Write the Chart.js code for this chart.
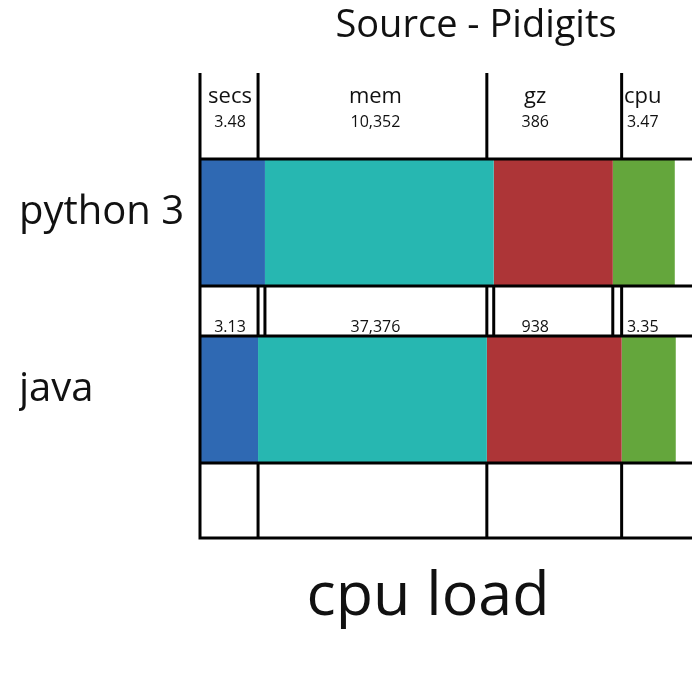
<!DOCTYPE html>
<html>
<head>
<meta charset="utf-8">
<title>Source - Pidigits</title>
<script src="https://cdn.jsdelivr.net/npm/chart.js@4.4.1/dist/chart.umd.min.js"></script>
<style>
    html, body { margin: 0; padding: 0; background: #fff; }
    canvas { display: block; }
</style>
</head>
<body>
<canvas id="pidigitsChart" width="700" height="678"></canvas>
<script>
    // Rows and columns
    const languages = ['python 3', 'java'];
    const metrics = ['secs', 'mem', 'gz', 'cpu'];

    // Segment lengths (share of the axis, 0-100)
    const secsBar = [13.2, 11.8];
    const memBar = [46.5, 46.5];
    const gzBar = [24.2, 27.4];
    const cpuBar = [12.6, 11.0];

    // Printed values
    const pythonValues = ['3.48', '10,352', '386', '3.47'];
    const javaValues = ['3.13', '37,376', '938', '3.35'];

    const colors = ['#2f69b3', '#27b7b1', '#ad3537', '#64a63c'];
    const FONT = '"Open Sans", "Noto Sans", sans-serif';

    // Frame lines and the header / value texts
    const framePlugin = {
        id: 'frame',
        afterDatasetsDraw: function (chart) {
            const ctx = chart.ctx;
            const x = chart.scales.x;
            const left = x.left, right = x.right;
            const py = chart.getDatasetMeta(0).data[0];
            const jv = chart.getDatasetMeta(0).data[1];
            const pyTop = py.y - py.height / 2, pyBot = py.y + py.height / 2;
            const jvTop = jv.y - jv.height / 2, jvBot = jv.y + jv.height / 2;
            const headTop = pyTop - 86;
            const footBot = jvBot + 75;

            // cumulative boundaries
            const bounds = function (row) {
                let sum = 0, out = [];
                chart.data.datasets.forEach(function (ds) {
                    sum += ds.data[row];
                    out.push(x.getPixelForValue(sum));
                });
                return out;
            };
            const pyB = bounds(0), jvB = bounds(1);

            ctx.save();
            ctx.strokeStyle = '#000';
            ctx.lineWidth = 3;
            ctx.beginPath();
            [pyTop, pyBot, jvTop, jvBot, footBot].forEach(function (y) {
                ctx.moveTo(left - 1.5, y);
                ctx.lineTo(right, y);
            });
            ctx.moveTo(left, headTop);
            ctx.lineTo(left, footBot);
            for (let i = 0; i < 3; i++) {
                ctx.moveTo(jvB[i], headTop);
                ctx.lineTo(jvB[i], pyTop);
                ctx.moveTo(jvB[i], pyBot);
                ctx.lineTo(jvB[i], jvTop);
                ctx.moveTo(pyB[i], pyBot);
                ctx.lineTo(pyB[i], jvTop);
                ctx.moveTo(jvB[i], jvBot);
                ctx.lineTo(jvB[i], footBot);
            }
            ctx.stroke();

            // texts
            const nudge = [1, 3, -19, -6];
            ctx.fillStyle = '#111';
            ctx.textAlign = 'center';
            ctx.textBaseline = 'alphabetic';
            let prev = left;
            for (let i = 0; i < 4; i++) {
                const cx = (prev + jvB[i]) / 2 + nudge[i];
                prev = jvB[i];
                ctx.font = '22px ' + FONT;
                ctx.fillText(metrics[i], cx, pyTop - 56);
                ctx.font = '16px ' + FONT;
                ctx.fillText(pythonValues[i], cx, pyTop - 32);
                ctx.fillText(javaValues[i], cx, jvTop - 4);
            }

            ctx.font = '38px ' + FONT;
            ctx.fillText('Source - Pidigits', 476, 37);
            ctx.font = '61px ' + FONT;
            ctx.fillText('cpu load', 428, 615);
            ctx.restore();
        }
    };

    new Chart(document.getElementById('pidigitsChart'), {
        type: 'bar',
        data: {
            labels: languages,
            datasets: [secsBar, memBar, gzBar, cpuBar].map(function (d, i) {
                return {
                    label: metrics[i],
                    data: d,
                    backgroundColor: colors[i],
                    borderWidth: 0,
                    barPercentage: 1,
                    categoryPercentage: 0.7175
                };
            })
        },
        options: {
            indexAxis: 'y',
            responsive: false,
            animation: false,
            devicePixelRatio: 1,
            layout: { padding: { top: 134, bottom: 190, left: 19, right: 8 } },
            plugins: {
                legend: { display: false },
                tooltip: { enabled: false },
                title: { display: false }
            },
            scales: {
                x: {
                    stacked: true,
                    min: 0,
                    max: 100,
                    display: false
                },
                y: {
                    stacked: true,
                    grid: { display: false },
                    border: { display: false },
                    afterFit: function (scale) { scale.width = 181; },
                    ticks: {
                        color: '#111',
                        crossAlign: 'far',
                        font: { family: FONT, size: 40 },
                        labelOffset: function (c) { return c.index === 0 ? -3 : -10; }
                    }
                }
            }
        },
        plugins: [framePlugin]
    });
</script>
</body>
</html>
